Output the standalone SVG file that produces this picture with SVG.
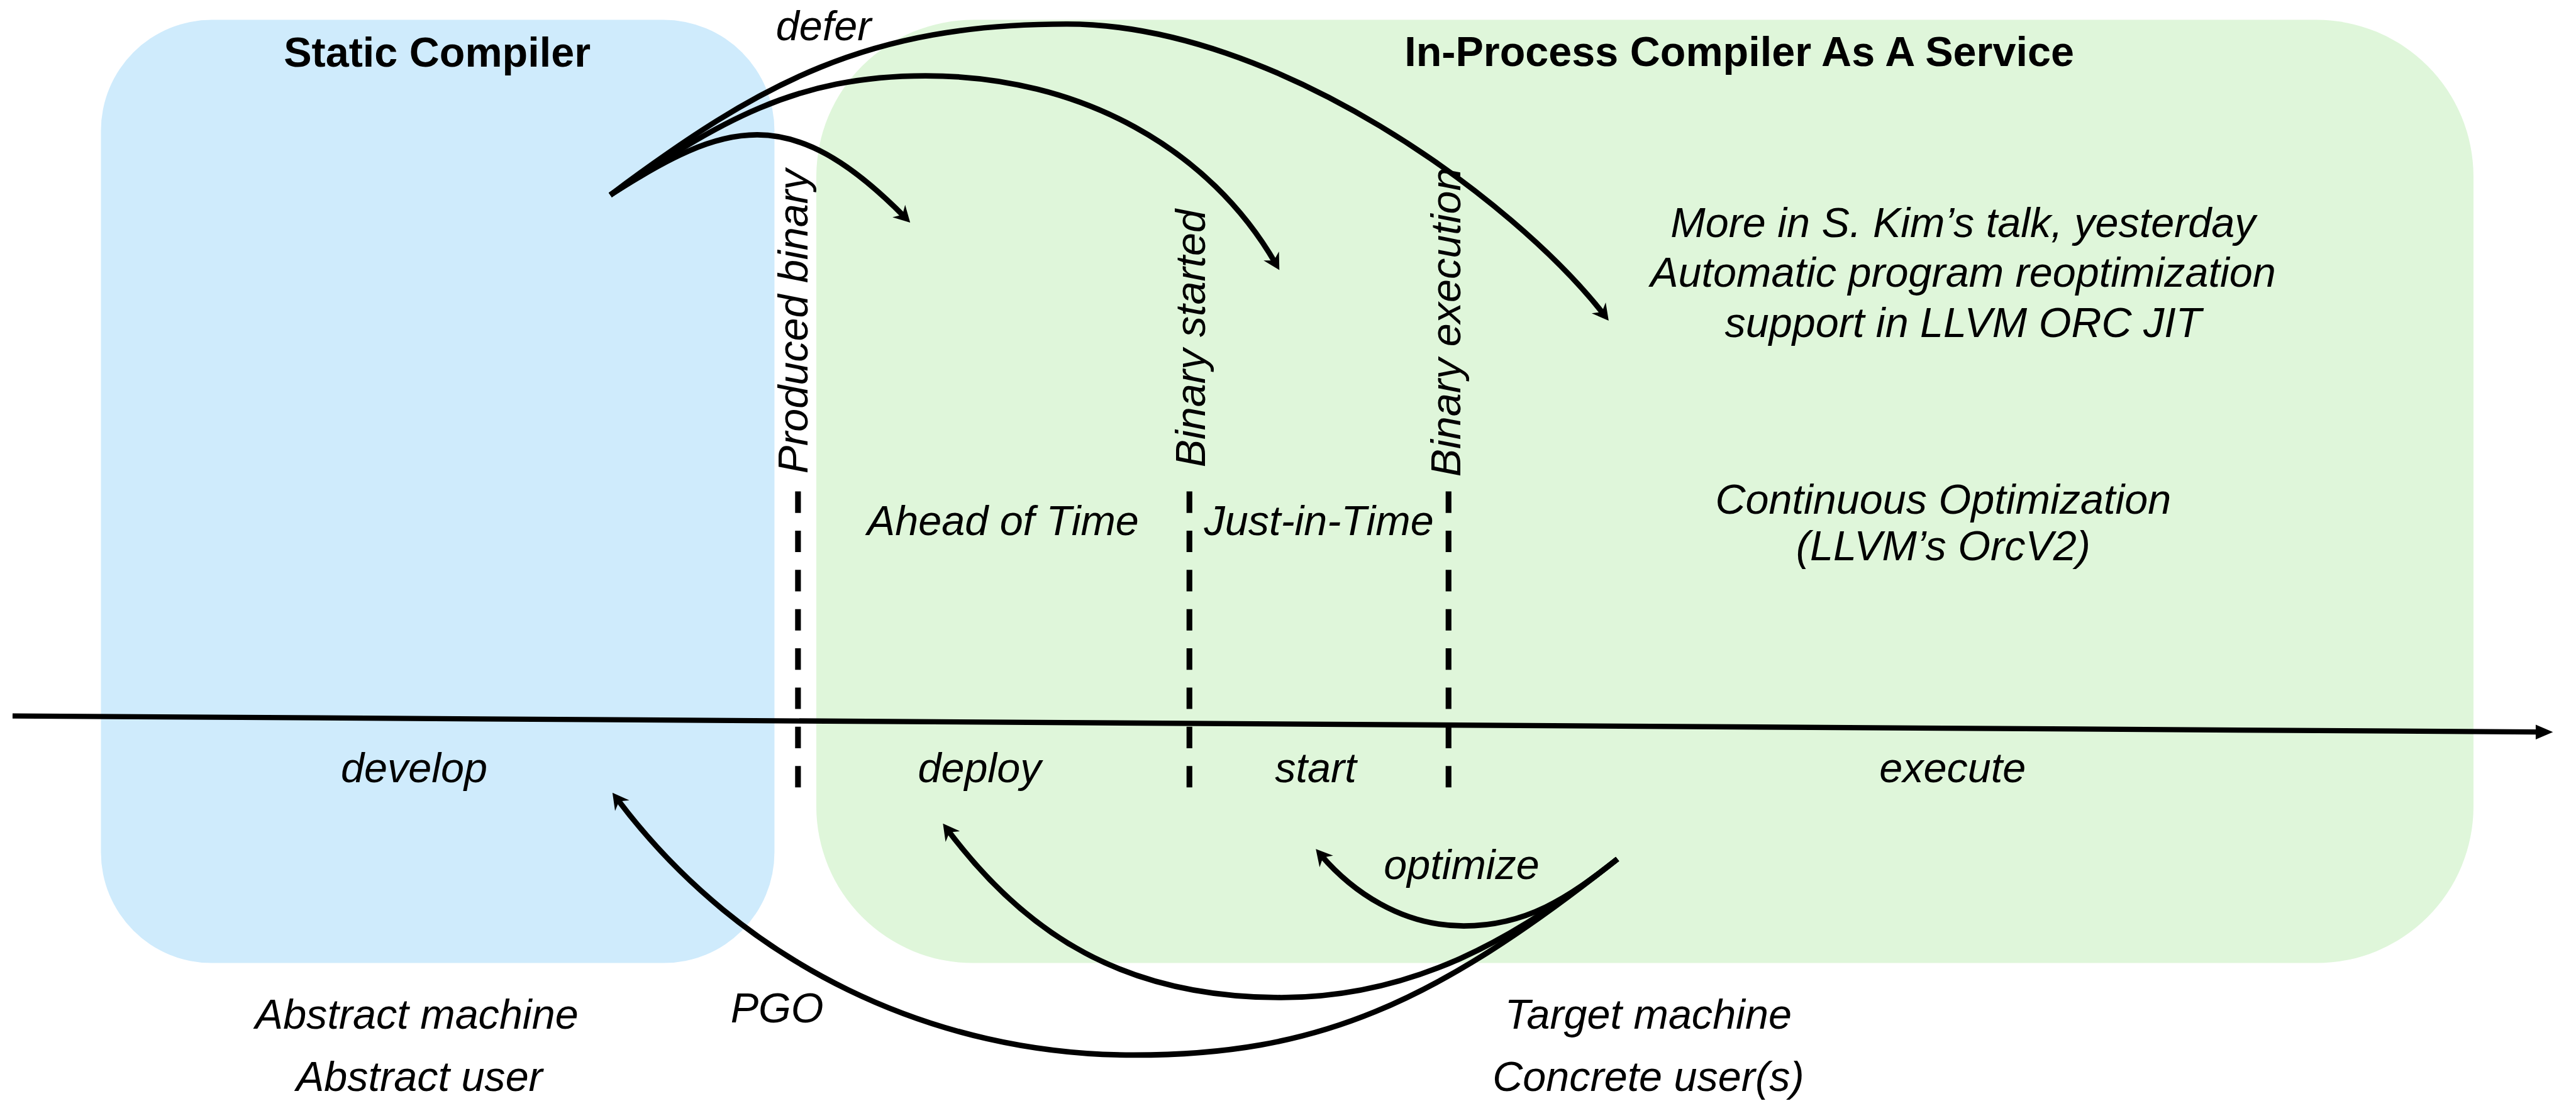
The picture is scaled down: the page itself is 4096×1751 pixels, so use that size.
<svg xmlns="http://www.w3.org/2000/svg" width="4096" height="1751" viewBox="0 0 4096 1751">
<defs>
<style>
.t{font-family:"Liberation Sans",Arial,Helvetica,sans-serif;font-size:80px;fill:#000}
.i{font-style:italic}
.b{font-weight:bold}
.m{text-anchor:middle}
.arc{fill:none;stroke:#000;stroke-width:10.5;marker-end:url(#ah)}
.dash{stroke:#000;stroke-width:11;stroke-dasharray:41 34;fill:none}
</style>
<marker id="ah" markerUnits="userSpaceOnUse" viewBox="0 -20 40 40" markerWidth="40" markerHeight="40" refX="16" refY="0" orient="auto" overflow="visible">
<path d="M0,-17 L31,0 L0,17 L10,0 Z" fill="#000"/>
</marker>
</defs>
<rect width="4096" height="1751" fill="#fff"/>
<g transform="scale(0.8315)">
<g id="static-compiler">
<rect x="193" y="38" width="1288" height="1804" rx="212" ry="212" fill="#CFEBFC"/>
<text class="t b m" x="836" y="127">Static Compiler</text>
</g>
<g id="compiler-service">
<rect x="1561" y="38" width="3169" height="1804" rx="300" ry="300" fill="#DFF6DA"/>
<text class="t b m" x="3326" y="126">In-Process Compiler As A Service</text>
</g>
<g id="timeline">
<path d="M24,1369.3 L4850,1400" stroke="#000" stroke-width="10" fill="none"/>
<polygon points="4849,1386 4882,1400.2 4849,1414.4" fill="#000"/>
<text class="t i m" x="792" y="1496">develop</text>
<text class="t i m" x="1873" y="1496">deploy</text>
<text class="t i m" x="2516" y="1496">start</text>
<text class="t i m" x="3734" y="1496">execute</text>
</g>
<g id="milestone-produced">
<line class="dash" x1="1526" y1="940" x2="1526" y2="1506"/>
<text class="t i" transform="translate(1544.5,906) rotate(-90)">Produced binary</text>
</g>
<g id="milestone-started">
<line class="dash" x1="2274.5" y1="940" x2="2274.5" y2="1506"/>
<text class="t i" transform="translate(2304,894) rotate(-90)">Binary started</text>
</g>
<g id="milestone-execution">
<line class="dash" x1="2770" y1="940" x2="2770" y2="1506"/>
<text class="t i" transform="translate(2792,912) rotate(-90)">Binary execution</text>
</g>
<g id="phase-aot"><text class="t i m" x="1918" y="1024">Ahead of Time</text></g>
<g id="phase-jit"><text class="t i m" x="2522" y="1024">Just-in-Time</text></g>
<g id="note-kim">
<text class="t i m" x="3754" y="453">More in S. Kim’s talk, yesterday</text>
<text class="t i m" x="3754" y="549">Automatic program reoptimization</text>
<text class="t i m" x="3754" y="645">support in LLVM ORC JIT</text>
</g>
<g id="note-continuous">
<text class="t i m" x="3716" y="982">Continuous Optimization</text>
<text class="t i m" x="3716" y="1071">(LLVM’s OrcV2)</text>
</g>
<g id="abstract">
<text class="t i m" x="797" y="1968">Abstract machine</text>
<text class="t i m" x="802" y="2086">Abstract user</text>
</g>
<g id="concrete">
<text class="t i m" x="3152" y="1968">Target machine</text>
<text class="t i m" x="3152" y="2086">Concrete user(s)</text>
</g>
<g id="connectors">
<path class="arc" d="M1167,373 C1386,232 1511,193 1730,415"/>
<path class="arc" d="M1167,373 C1374.5,233 1520,145 1770,145 C2070,145 2314,287 2439,503.5"/>
<path class="arc" d="M1167,373 C1455,157 1660,46 2040,46 C2440,46 2894.5,380.8 3067,601.4"/>
<path class="arc" d="M3093,1643 C2999,1717.4 2919,1771 2799,1771 C2679,1771 2584.5,1703.8 2526,1635.4"/>
<path class="arc" d="M3093,1643 C2897,1798 2700,1908 2450,1908 C2150,1908 1962.2,1787.2 1812.2,1587.2"/>
<path class="arc" d="M3093,1643 C2740.2,1922 2518,2018 2168,2018 C1788,2018 1420.2,1848.1 1180.2,1528.1"/>
<text class="t i m" x="1575" y="77">defer</text>
<text class="t i m" x="2795" y="1681">optimize</text>
<text class="t i m" x="1486" y="1956">PGO</text>
</g>
</g>
</svg>
